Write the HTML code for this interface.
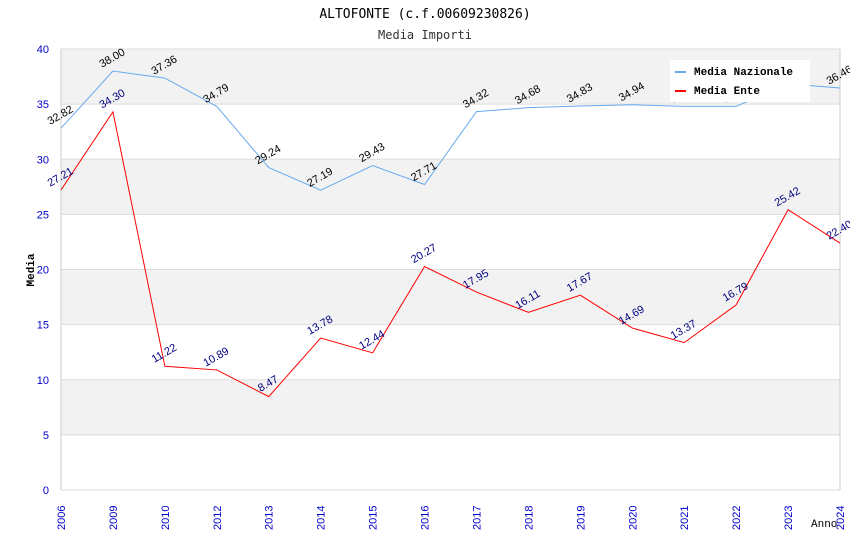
<!DOCTYPE html>
<html><head><meta charset="utf-8"><style>
body{margin:0;background:#fff;}
svg{display:block;font-family:"Liberation Sans",sans-serif;}
</style></head><body>
<svg id="c" width="850" height="550">
<text x="425" y="18" text-anchor="middle" font-family="DejaVu Sans Mono,monospace" font-size="13">ALTOFONTE (c.f.00609230826)</text>
<text x="425" y="39" text-anchor="middle" font-family="DejaVu Sans Mono,monospace" font-size="12" fill="#333">Media Importi</text>
<text transform="translate(34,270) rotate(-90)" text-anchor="middle" font-family="Liberation Mono,monospace" font-size="11" font-weight="bold">Media</text>
<text x="811" y="527" font-family="Liberation Mono,monospace" font-size="11">Anno</text>
<g id="bands"></g><g id="grid"></g><g id="yt"></g><g id="xt"></g><g id="series"></g>
<g>
<rect x="670" y="60" width="140" height="42" fill="#fff"/>
<line x1="675" y1="72" x2="686" y2="72" stroke="#66aaee" stroke-width="2"/>
<text x="694" y="75" font-family="Liberation Mono,monospace" font-size="11" font-weight="bold">Media Nazionale</text>
<line x1="675" y1="91" x2="686" y2="91" stroke="#ff0000" stroke-width="2"/>
<text x="694" y="94" font-family="Liberation Mono,monospace" font-size="11" font-weight="bold">Media Ente</text>
</g>
</svg>
<script>
const categories=["2006","2009","2010","2012","2013","2014","2015","2016","2017","2018","2019","2020","2021","2022","2023","2024"];
const nazionale=[32.82,38.00,37.36,34.79,29.24,27.19,29.43,27.71,34.32,34.68,34.83,34.94,34.80,34.80,36.85,36.46];
const ente=[27.21,34.30,11.22,10.89,8.47,13.78,12.44,20.27,17.95,16.11,17.67,14.69,13.37,16.79,25.42,22.40];
const yTicks=[0,5,10,15,20,25,30,35,40];
const NS="http://www.w3.org/2000/svg";
const L=61,R=840,T=49,B=490,YMAX=40;
const xs=i=>L+i*(R-L)/(categories.length-1);
const ys=v=>B-v/YMAX*(B-T);
function mk(tag,attrs,parent,txt){const e=document.createElementNS(NS,tag);for(const k in attrs)e.setAttribute(k,attrs[k]);if(txt!==undefined)e.textContent=txt;document.getElementById(parent).appendChild(e);return e;}
for(let i=0;i<yTicks.length-1;i++){
 const a=yTicks[i],b=yTicks[i+1];
 const r=mk('rect',{x:L,y:ys(b),width:R-L,height:ys(a)-ys(b),fill:(i%2===1)?'#f2f2f2':'#ffffff'},'bands');
 
 
}
yTicks.forEach(t=>{
 const g=mk('line',{x1:L,x2:R,y1:ys(t),y2:ys(t),stroke:'#dddddd','stroke-width':1},'grid');
 
 
 const tx=mk('text',{x:L-12,y:ys(t)+4,'text-anchor':'end','font-size':11,fill:'#0000cc'},'yt',String(t));
 
 
});
mk('line',{x1:L,x2:L,y1:T,y2:B,stroke:'#cccccc'},'grid');
mk('line',{x1:R,x2:R,y1:T,y2:B,stroke:'#cccccc'},'grid');
categories.forEach((c,i)=>{
 const x=xs(i);
 const tx=mk('text',{transform:`translate(${x+4},${B+40}) rotate(-90)`,'font-size':11,fill:'#0000cc'},'xt',c);
 
 
});
function series(vals,color,lblColor,name){
 const pts=vals.map((v,i)=>xs(i)+','+ys(v)).join(' ');
 const p=mk('polyline',{points:pts,fill:'none',stroke:color,'stroke-width':1},'series');
 
 
 vals.forEach((v,i)=>{
  const t=mk('text',{transform:`translate(${xs(i)+1},${ys(v)-10}) rotate(-30)`,'text-anchor':'middle','font-size':11,fill:lblColor},'series',v.toFixed(2));
  
  
 });
}
series(nazionale,'#66aaee','#000000','nazionale');
series(ente,'#ff0000','#000080','ente');
</script>
</body></html>
